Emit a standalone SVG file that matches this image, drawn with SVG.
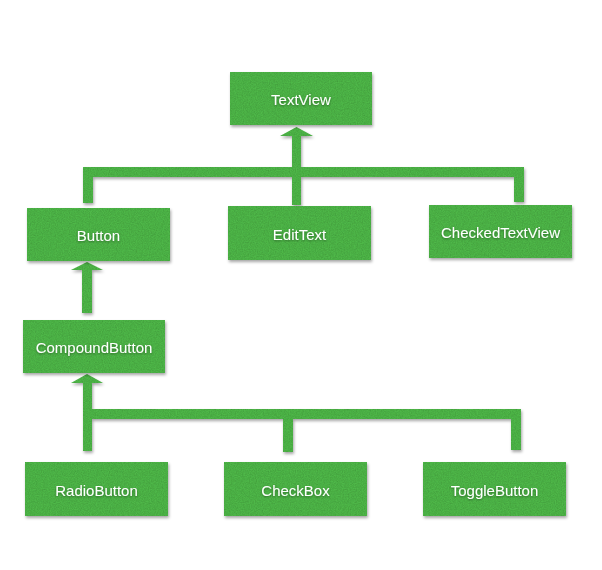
<svg xmlns="http://www.w3.org/2000/svg" width="602" height="570" viewBox="0 0 602 570">
<style>
.box{fill:#50b849;filter:url(#tex)}
.con{fill:#50b849;filter:url(#tex)}
.lbl{font-family:"Liberation Sans",Arial,sans-serif;font-size:15px;fill:#ffffff;text-anchor:middle;dominant-baseline:central;filter:url(#tsh)}
</style>
<defs>
<filter id="tex" x="-10%" y="-10%" width="125%" height="135%">
<feTurbulence type="fractalNoise" baseFrequency="0.85" numOctaves="2" seed="4" result="n"/>
<feColorMatrix in="n" type="matrix" values="0 0 0 0 0  0 0 0 0 0  0 0 0 0 0  0.45 0 0 0 -0.12" result="nd"/>
<feComposite in="nd" in2="SourceGraphic" operator="in" result="ns"/>
<feGaussianBlur in="SourceAlpha" stdDeviation="1.5" result="b"/>
<feOffset in="b" dx="1" dy="2" result="ob"/>
<feFlood flood-color="#000" flood-opacity="0.35"/>
<feComposite in2="ob" operator="in" result="sh"/>
<feMerge><feMergeNode in="sh"/><feMergeNode in="SourceGraphic"/><feMergeNode in="ns"/></feMerge>
</filter>
<filter id="tsh" x="-10%" y="-30%" width="120%" height="160%">
<feGaussianBlur in="SourceAlpha" stdDeviation="1" result="b"/>
<feOffset in="b" dx="0" dy="1" result="ob"/>
<feFlood flood-color="#000" flood-opacity="0.4"/>
<feComposite in2="ob" operator="in" result="sh"/>
<feMerge><feMergeNode in="sh"/><feMergeNode in="SourceGraphic"/></feMerge>
</filter>
</defs>
<g id="connectors">
<path class="con" d="M296.5,127 L313,136 L301,136 L301,167 L524,167 L524,202 L514,202 L514,177 L301,177 L301,205 L292,205 L292,177 L93,177 L93,203 L83,203 L83,167 L292,167 L292,136 L280,136 Z"/>
<path class="con" d="M87,262 L103,270 L92,270 L92,313 L82,313 L82,270 L71,270 Z"/>
<path class="con" d="M87,374 L103,383 L92,383 L92,409 L521,409 L521,450 L511,450 L511,419 L293,419 L293,452 L283,452 L283,419 L92,419 L92,451 L83,451 L83,383 L71,383 Z"/>
</g>
<g id="TextView"><rect class="box" x="230" y="72" width="142" height="53"/><text class="lbl" x="301" y="99">TextView</text></g>
<g id="Button"><rect class="box" x="27" y="208" width="143" height="53"/><text class="lbl" x="98.5" y="235.5">Button</text></g>
<g id="EditText"><rect class="box" x="228" y="206" width="143" height="54"/><text class="lbl" x="299.5" y="234">EditText</text></g>
<g id="CheckedTextView"><rect class="box" x="429" y="205" width="143" height="53"/><text class="lbl" x="500.5" y="232">CheckedTextView</text></g>
<g id="CompoundButton"><rect class="box" x="23" y="320" width="142" height="53"/><text class="lbl" x="94" y="347">CompoundButton</text></g>
<g id="RadioButton"><rect class="box" x="25" y="462" width="143" height="54"/><text class="lbl" x="96.5" y="490">RadioButton</text></g>
<g id="CheckBox"><rect class="box" x="224" y="462" width="143" height="54"/><text class="lbl" x="295.5" y="490">CheckBox</text></g>
<g id="ToggleButton"><rect class="box" x="423" y="462" width="143" height="54"/><text class="lbl" x="494.5" y="490">ToggleButton</text></g>
</svg>
